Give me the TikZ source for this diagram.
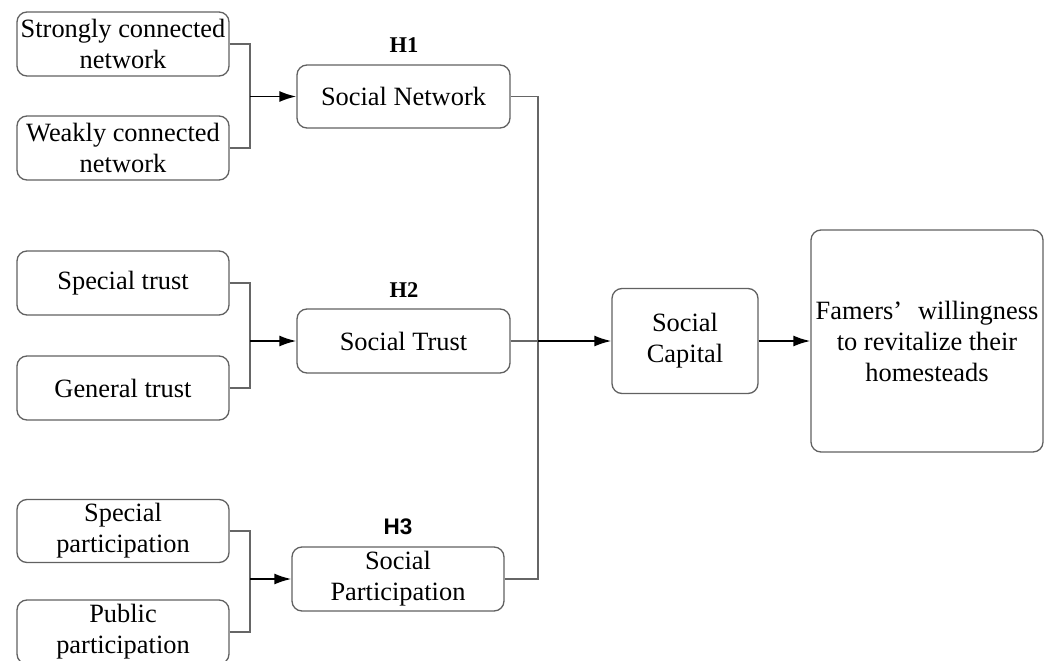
\documentclass[tikz,border=0pt]{standalone}
\usepackage{fontspec}
\setmainfont{Liberation Serif}
\newfontfamily\hsans{Liberation Sans}
\usetikzlibrary{arrows.meta}
\begin{document}
\begin{tikzpicture}[x=1pt,y=-1pt,
  box/.style={draw=black!62,line width=1.3pt,rounded corners=10pt,align=center,
    font=\fontsize{26.4}{31}\selectfont,inner sep=0pt},
  conn/.style={draw=black!60,line width=1.4pt},
  arr/.style={draw=black,line width=1.8pt,-{Latex[length=17pt,width=11pt]}},
  hlab/.style={font=\fontsize{22.5}{26}\selectfont\bfseries}]
\useasboundingbox (0,0) rectangle (1052,661);
\fill[white] (0,0) rectangle (1052,661);
% left boxes
\node[box,minimum width=212pt,minimum height=64pt] (sc) at (123,44) {Strongly connected\\network};
\node[box,minimum width=212pt,minimum height=64pt] (wc) at (123,148) {Weakly connected\\network};
\node[box,minimum width=212pt,minimum height=64pt] (st) at (123,283) {Special trust};
\node[box,minimum width=212pt,minimum height=64pt] (gt) at (123,388) {General trust};
\node[box,minimum width=212pt,minimum height=63pt] (sp) at (123,531) {Special\\participation};
\node[box,minimum width=212pt,minimum height=64pt] (pp) at (123,632) {Public\\participation};
% middle boxes
\node[box,minimum width=213pt,minimum height=63pt] (sn) at (403.5,96.5) {Social Network};
\node[box,minimum width=213pt,minimum height=64pt] (strust) at (403.5,341) {Social Trust};
\node[box,minimum width=212pt,minimum height=64pt] (spart) at (398,579) {Social\\Participation};
% labels
\node[hlab] (h1) at (404,45) {H1};
\node[hlab] (h2) at (404,290) {H2};
\node[hlab,font=\fontsize{22.5}{26}\selectfont\hsans\bfseries] (h3) at (398,527) {H3};
% right boxes
\node[box,minimum width=146pt,minimum height=105pt] (cap) at (685,341) {Social\\Capital};
\node[box,minimum width=232pt,minimum height=222pt] (fw) at (927,341) {Famers’\hspace{0.6em}willingness\\to revitalize their\\homesteads};
% junctions
\coordinate (j1) at (250,96.5);
\coordinate (j2) at (250,341);
\coordinate (j3) at (250,579);
\coordinate (bus) at (538,341);
\draw[conn] (sc.east) -| (j1);
\draw[conn] (wc.east) -| (j1);
\draw[arr] (j1) -- (sn.west);
\draw[conn] (st.east) -| (j2);
\draw[conn] (gt.east) -| (j2);
\draw[arr] (j2) -- (strust.west);
\draw[conn] (sp.east) -| (j3);
\draw[conn] (pp.east) -| (j3);
\draw[arr] (j3) -- (spart.west);
\draw[conn] (sn.east) -| (bus);
\draw[conn] (spart.east) -| (bus);
\draw[conn] (strust.east) -- (bus);
\draw[arr] (bus) -- (cap.west);
\draw[arr] (cap.east) -- (fw.west);
\end{tikzpicture}
\end{document}
